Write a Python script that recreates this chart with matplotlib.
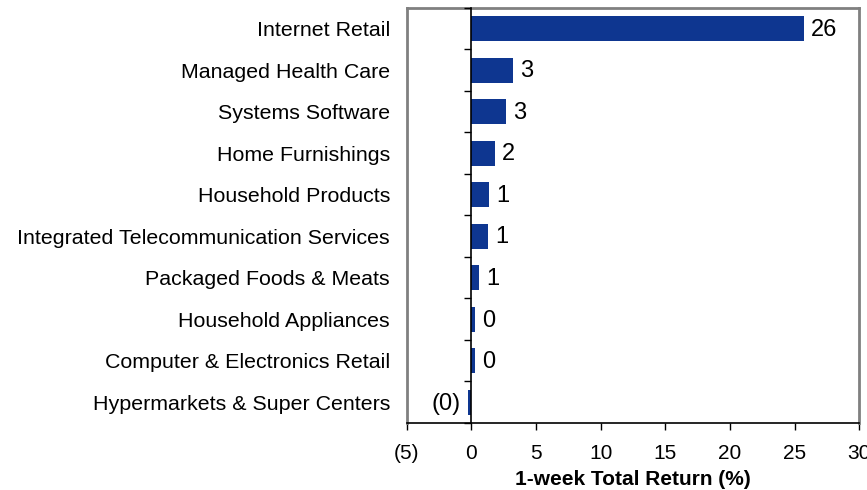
import matplotlib.pyplot as plt
import numpy as np

plt.rcParams['font.family'] = ['Liberation Sans', 'DejaVu Sans']

industries = [
    'Internet Retail',
    'Managed Health Care',
    'Systems Software',
    'Home Furnishings',
    'Household Products',
    'Integrated Telecommunication Services',
    'Packaged Foods & Meats',
    'Household Appliances',
    'Computer & Electronics Retail',
    'Hypermarkets & Super Centers',
]
returns = [25.7, 3.2, 2.7, 1.8, 1.4, 1.3, 0.6, 0.3, 0.3, -0.25]
x_ticks = [-5, 0, 5, 10, 15, 20, 25, 30]

bar_color = '#0e3690'


def fmt(v):
    # accounting style: negatives in parentheses
    r = int(round(abs(v)))
    return f'({r})' if v < 0 else f'{r}'


fig = plt.figure(figsize=(8.67, 4.9), dpi=100)
ax = fig.add_axes([0.469, 0.137, 0.522, 0.847])

n = len(industries)
ypos = np.arange(n)[::-1]
ax.barh(ypos, returns, height=0.6, color=bar_color, zorder=3)

for y, v in zip(ypos, returns):
    if v < 0:
        ax.annotate(fmt(v), (v, y), xytext=(-5, -1), textcoords='offset points',
                    ha='right', va='center', fontsize=17)
    else:
        ax.annotate(fmt(v), (v, y), xytext=(5, -1), textcoords='offset points',
                    ha='left', va='center', fontsize=17)

ax.set_xlim(-5, 30)
ax.set_ylim(-0.5, n - 0.5)
ax.set_xticks(x_ticks)
ax.set_xticklabels([fmt(t) for t in x_ticks], fontsize=15)
ax.tick_params(axis='x', direction='out', length=5, width=1, color='black', pad=10)
ax.set_xlabel('1-week Total Return (%)', fontsize=15, fontweight='bold', labelpad=5)

ax.set_yticks(ypos)
ax.set_yticklabels(industries, fontsize=15.4)
ax.tick_params(axis='y', length=0, pad=12)

for side in ['left', 'top', 'right']:
    ax.spines[side].set_color('#808080')
    ax.spines[side].set_linewidth(2)
ax.spines['bottom'].set_color('black')
ax.spines['bottom'].set_linewidth(1.2)

# category axis drawn through zero with ticks between bars
ax2 = ax.twinx()
ax2.set_ylim(ax.get_ylim())
ax2.yaxis.tick_left()
ax2.spines['left'].set_position(('data', 0))
ax2.spines['left'].set_color('black')
ax2.spines['left'].set_linewidth(1.2)
for side in ['top', 'right', 'bottom']:
    ax2.spines[side].set_visible(False)
ax2.set_yticks(np.arange(n + 1) - 0.5)
ax2.set_yticklabels([])
ax2.tick_params(axis='y', direction='out', length=5, width=1, color='black')

fig.savefig('out.png', dpi=100)
